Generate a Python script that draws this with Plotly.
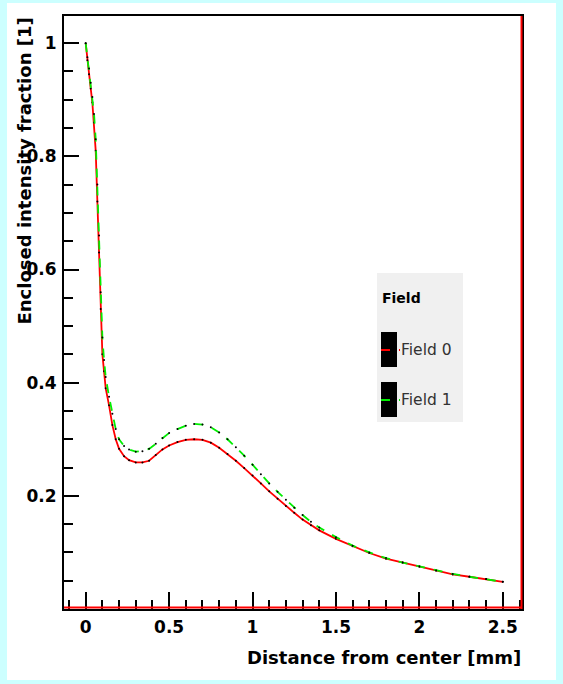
import plotly.graph_objects as go

# Data
distance_mm = [0, 0.01, 0.02, 0.03, 0.04, 0.05, 0.06, 0.07, 0.08, 0.09, 0.10, 0.11, 0.12,
               0.14, 0.16, 0.18, 0.20, 0.23, 0.26, 0.30, 0.34, 0.38, 0.42, 0.46, 0.50,
               0.55, 0.60, 0.65, 0.70, 0.75, 0.80, 0.85, 0.90, 0.95, 1.00, 1.05, 1.10,
               1.15, 1.20, 1.25, 1.30, 1.35, 1.40, 1.50, 1.60, 1.70, 1.80, 1.90, 2.00,
               2.10, 2.20, 2.30, 2.40, 2.50]

field0 = [1.0, 0.97, 0.945, 0.92, 0.895, 0.86, 0.81, 0.72, 0.63, 0.53, 0.45, 0.42, 0.39,
          0.36, 0.325, 0.30, 0.283, 0.27, 0.263, 0.259, 0.259, 0.262, 0.272, 0.282, 0.289,
          0.295, 0.299, 0.300, 0.299, 0.294, 0.285, 0.274, 0.262, 0.249, 0.236, 0.222, 0.208,
          0.195, 0.182, 0.17, 0.158, 0.148, 0.139, 0.124, 0.111, 0.099, 0.089, 0.082, 0.075,
          0.068, 0.061, 0.057, 0.053, 0.048]

field1 = [1.0, 0.975, 0.955, 0.93, 0.905, 0.875, 0.83, 0.75, 0.66, 0.56, 0.48, 0.44, 0.41,
          0.375, 0.345, 0.318, 0.30, 0.288, 0.282, 0.278, 0.279, 0.283, 0.292, 0.302, 0.311,
          0.318, 0.324, 0.327, 0.326, 0.321, 0.312, 0.300, 0.286, 0.271, 0.255, 0.238, 0.222,
          0.207, 0.193, 0.179, 0.166, 0.154, 0.144, 0.127, 0.112, 0.100, 0.090, 0.082, 0.075,
          0.068, 0.062, 0.057, 0.053, 0.048]

series_names = ["Field 0", "Field 1"]
legend_title = "Field"
x_title = "Distance from center [mm]"
y_title = "Enclosed intensity fraction [1]"

FONT = "DejaVu Sans"
W, H = 563, 684
L, R, T, B = 64, 41, 16, 75
pw, ph = W - L - R, H - T - B

def px(x):
    return (x - L) / pw

def py(y):
    return (H - B - y) / ph

fig = go.Figure()
fig.add_trace(go.Scatter(x=distance_mm, y=field0, mode="lines+markers", name=series_names[0],
                         line=dict(color="#ff0000", width=1.8),
                         marker=dict(color="black", size=2), showlegend=False))
fig.add_trace(go.Scatter(x=distance_mm, y=field1, mode="lines+markers", name=series_names[1],
                         line=dict(color="#00ee00", width=1.8, dash="dash"),
                         marker=dict(color="black", size=2), showlegend=False))

shapes = [
    # white panel
    dict(type="rect", xref="paper", yref="paper", x0=px(7), x1=px(556), y0=py(680), y1=py(3),
         fillcolor="white", line=dict(width=0), layer="below"),
    # red frame parts (right and bottom)
    dict(type="line", xref="paper", yref="paper", x0=px(521.5), x1=px(521.5), y0=py(609), y1=py(16),
         line=dict(color="#ff0000", width=2)),
    dict(type="line", xref="paper", yref="paper", x0=px(64), x1=px(522), y0=py(607.5), y1=py(607.5),
         line=dict(color="#ff0000", width=2)),
    # legend box
    dict(type="rect", xref="paper", yref="paper", x0=px(377), x1=px(463), y0=py(422), y1=py(273),
         fillcolor="#f0f0f0", line=dict(width=0)),
    dict(type="rect", xref="paper", yref="paper", x0=px(381), x1=px(397), y0=py(367), y1=py(332),
         fillcolor="black", line=dict(width=0)),
    dict(type="rect", xref="paper", yref="paper", x0=px(381), x1=px(397), y0=py(417), y1=py(382),
         fillcolor="black", line=dict(width=0)),
    dict(type="line", xref="paper", yref="paper", x0=px(381), x1=px(400), y0=py(350), y1=py(350),
         line=dict(color="#ff0000", width=2, dash="dash")),
    dict(type="line", xref="paper", yref="paper", x0=px(381), x1=px(400), y0=py(400), y1=py(400),
         line=dict(color="#00ee00", width=2, dash="dash")),
]

annotations = [
    dict(text="<b>" + legend_title + "</b>", xref="paper", yref="paper", x=px(380), y=py(298),
         xanchor="left", yanchor="middle", showarrow=False,
         font=dict(family=FONT, size=14, color="black")),
    dict(text=series_names[0], xref="paper", yref="paper", x=px(399), y=py(350),
         xanchor="left", yanchor="middle", showarrow=False,
         font=dict(family=FONT, size=15.5, color="#333333")),
    dict(text=series_names[1], xref="paper", yref="paper", x=px(399), y=py(400),
         xanchor="left", yanchor="middle", showarrow=False,
         font=dict(family=FONT, size=15.5, color="#333333")),
    dict(text="<b>" + y_title + "</b>", xref="paper", yref="paper", x=px(24), y=py(16),
         xanchor="center", yanchor="top", textangle=-90, showarrow=False,
         font=dict(family=FONT, size=18, color="black")),
    dict(text="<b>" + x_title + "</b>", xref="paper", yref="paper", x=px(523), y=py(657),
         xanchor="right", yanchor="middle", showarrow=False,
         font=dict(family=FONT, size=18, color="black")),
]

fig.update_layout(
    width=W, height=H, margin=dict(l=L, r=R, t=T, b=B, pad=0),
    paper_bgcolor="#ccffff", plot_bgcolor="white",
    shapes=shapes, annotations=annotations, showlegend=False,
    font=dict(family=FONT, size=17, color="black"),
)
fig.update_xaxes(range=[-0.13, 2.615], tickmode="array", tickvals=[0, 0.5, 1, 1.5, 2, 2.5],
                 ticktext=["<b>0</b>", "<b>0.5</b>", "<b>1</b>", "<b>1.5</b>", "<b>2</b>", "<b>2.5</b>"],
                 ticks="inside", ticklen=17, tickwidth=1.5, tickcolor="black",
                 minor=dict(ticks="inside", dtick=0.1, tick0=0, ticklen=9, tickwidth=1.5, tickcolor="black"),
                 showgrid=False, zeroline=False, showline=True, linecolor="black", linewidth=2,
                 mirror=True, ticklabelstandoff=2)
fig.update_yaxes(range=[0.0, 1.048], tickmode="array", tickvals=[0.2, 0.4, 0.6, 0.8, 1.0],
                 ticktext=["<b>0.2</b>", "<b>0.4</b>", "<b>0.6</b>", "<b>0.8</b>", "<b>1</b>"],
                 ticks="inside", ticklen=15, tickwidth=1.5, tickcolor="black",
                 minor=dict(ticks="inside", dtick=0.05, tick0=0, ticklen=9, tickwidth=1.5, tickcolor="black"),
                 showgrid=False, zeroline=False, showline=True, linecolor="black", linewidth=2,
                 mirror=True, ticklabelstandoff=2)

fig.write_html("out.html")
